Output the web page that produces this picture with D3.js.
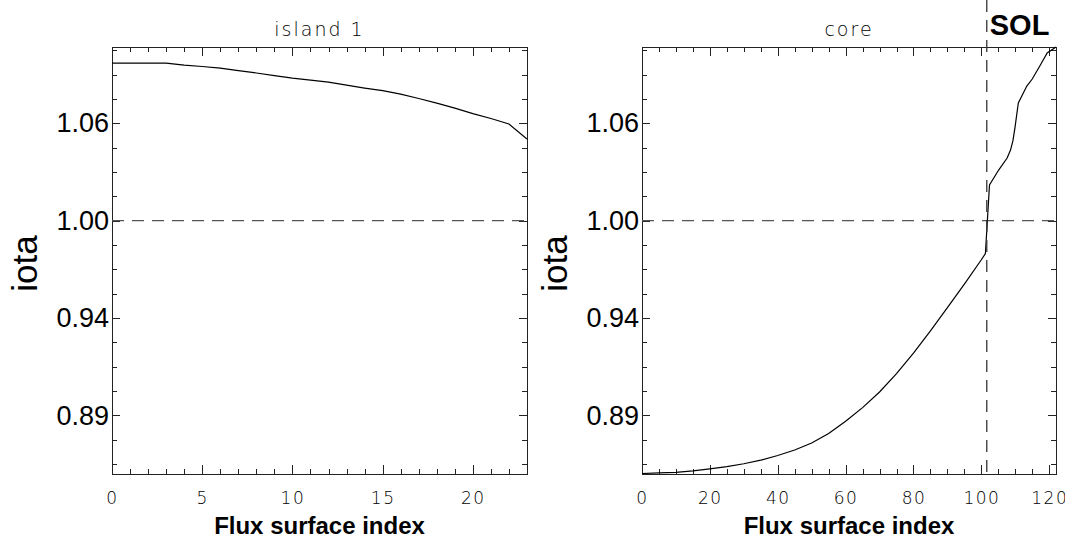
<!DOCTYPE html>
<html>
<head>
<meta charset="utf-8">
<script src="https://cdn.jsdelivr.net/npm/d3@7"></script>
<style>
    body { margin: 0; background: #fff; }
    svg { display: block; }
    .thin { font-family: "DejaVu Sans", sans-serif; font-weight: 200; }
    .arial { font-family: "Liberation Sans", Arial, sans-serif; }
</style>
</head>
<body>
<svg id="chart" width="1065" height="538"></svg>
<script>
// island 1 : iota per flux surface
var islandIndex = [0, 1, 2, 3, 4, 5, 6, 7, 8, 9, 10, 11, 12, 13, 14, 15, 16, 17, 18, 19, 20, 21, 22, 23];
var islandIota = [1.0921, 1.0921, 1.0921, 1.0921, 1.0909, 1.0901, 1.0892, 1.0877, 1.0863, 1.0848, 1.0833, 1.0822,
    1.0810, 1.0792, 1.0775, 1.0760, 1.0740, 1.0714, 1.0687, 1.0658, 1.0626, 1.0597, 1.0565, 1.0477];

// core : iota per flux surface
var coreIndex = [0, 5, 10, 15, 20, 25, 30, 35, 40, 45, 50, 55, 60, 65, 70, 75, 80, 85, 90, 95, 100, 101.2,
    102.4, 105.1, 107.6, 108.6, 109.3, 109.9, 110.9, 113.4, 115, 117.4, 119.4, 122];
var coreIota = [0.8523, 0.8526, 0.8530, 0.8538, 0.8550, 0.8563, 0.8580, 0.8601, 0.8628, 0.8660, 0.8701, 0.8756,
    0.8828, 0.8908, 0.8999, 0.9106, 0.9226, 0.9356, 0.9492, 0.9630, 0.9772, 0.9808,
    1.0209, 1.0296, 1.0366, 1.0413, 1.0466, 1.0542, 1.0688, 1.0787, 1.0828, 1.0910, 1.0980, 1.1015];

var sepIndex = 101.6;      // SOL boundary
var resonance = 1.0;       // iota = 1 line

var yDomain = [0.852, 1.1015];
var yMajorTicks = [0.8862, 0.9431, 1.0000, 1.0569];
var yTickLabels = ["0.89", "0.94", "1.00", "1.06"];

var islandXDomain = [0, 23];
var islandXTicks = [0, 5, 10, 15, 20];
var coreXDomain = [0, 122];
var coreXTicks = [0, 20, 40, 60, 80, 100, 120];

var svg = d3.select('#chart');
var plotTop = 47, plotBottom = 474;

var yScale = d3.scaleLinear().domain(yDomain).range([plotBottom, plotTop]);

// minor y ticks: 4 intervals per major
var yStep = (yMajorTicks[1] - yMajorTicks[0]) / 4;
var yMinor = d3.range(-20, 20).map(function (k) { return yMajorTicks[0] + k * yStep; })
    .filter(function (v) { return v >= yDomain[0] && v <= yDomain[1]; });

function drawPanel(opt) {
    var g = svg.append('g');
    var x = d3.scaleLinear().domain(opt.xDomain).range([opt.left, opt.right]);
    var xMinor = d3.range(opt.xDomain[0], opt.xDomain[1] + 0.001, opt.minorStep);

    function axisGroup(axis, tx, ty) {
        var a = g.append('g')
            .attr('transform', 'translate(' + tx + ',' + ty + ')')
            .call(axis);
        a.selectAll('path, line').attr('stroke', '#222').attr('stroke-width', 1).attr('shape-rendering', 'crispEdges');
        return a;
    }

    // minor ticks first
    axisGroup(d3.axisBottom(x).tickValues(xMinor).tickSize(-5).tickSizeOuter(0).tickFormat(''), 0, plotBottom);
    axisGroup(d3.axisTop(x).tickValues(xMinor).tickSize(-5).tickSizeOuter(0).tickFormat(''), 0, plotTop);
    axisGroup(d3.axisLeft(yScale).tickValues(yMinor).tickSize(-5).tickSizeOuter(0).tickFormat(''), opt.left, 0);
    axisGroup(d3.axisRight(yScale).tickValues(yMinor).tickSize(-5).tickSizeOuter(0).tickFormat(''), opt.right, 0);

    // major ticks
    var xb = axisGroup(d3.axisBottom(x).tickValues(opt.xTicks).tickSize(-9).tickSizeOuter(0).tickPadding(30)
        .tickFormat(d3.format('d')), 0, plotBottom);
    xb.selectAll('text').attr('class', 'thin').style('font-size', '17px').style('letter-spacing', '1.5px')
        .attr('fill', '#000').attr('dy', '0');
    axisGroup(d3.axisTop(x).tickValues(opt.xTicks).tickSize(-9).tickSizeOuter(0).tickFormat(''), 0, plotTop);
    var yl = axisGroup(d3.axisLeft(yScale).tickValues(yMajorTicks).tickSize(-8).tickSizeOuter(0).tickPadding(3)
        .tickFormat(function (d, i) { return yTickLabels[i]; }), opt.left, 0);
    yl.selectAll('text').attr('class', 'arial').style('font-size', '27px').attr('fill', '#000');
    axisGroup(d3.axisRight(yScale).tickValues(yMajorTicks).tickSize(-8).tickSizeOuter(0).tickFormat(''), opt.right, 0);

    // iota = 1 dashed line
    g.append('line')
        .attr('x1', opt.left).attr('x2', opt.right)
        .attr('y1', yScale(resonance)).attr('y2', yScale(resonance))
        .attr('stroke', '#555').attr('stroke-width', 1.3).attr('stroke-dasharray', '12,8');

    var clipId = 'clip-' + opt.name;
    svg.append('clipPath').attr('id', clipId).append('rect')
        .attr('x', opt.left).attr('y', plotTop - 1).attr('width', opt.right - opt.left).attr('height', plotBottom - plotTop + 1);

    var line = d3.line()
        .x(function (d) { return x(d[0]); })
        .y(function (d) { return yScale(d[1]); });

    g.append('path')
        .datum(d3.zip(opt.xs, opt.ys))
        .attr('d', line)
        .attr('clip-path', 'url(#' + clipId + ')')
        .attr('fill', 'none').attr('stroke', '#000').attr('stroke-width', 1.2);

    // titles
    var cx = (opt.left + opt.right) / 2;
    g.append('text').attr('class', 'thin').attr('x', cx).attr('y', 36)
        .attr('text-anchor', 'middle').style('font-size', '19px').style('letter-spacing', '2px')
        .text(opt.title);
    g.append('text').attr('class', 'arial').attr('x', cx).attr('y', 534)
        .attr('text-anchor', 'middle').style('font-size', '24px').style('font-weight', 'bold')
        .text('Flux surface index');
    g.append('text').attr('class', 'arial')
        .attr('transform', 'translate(' + (opt.left - 75) + ',' + ((plotTop + plotBottom) / 2 + 3) + ') rotate(-90)')
        .attr('text-anchor', 'middle').style('font-size', '35px')
        .text('iota');

    return x;
}

drawPanel({
    name: 'island', left: 112, right: 527, xDomain: islandXDomain, xTicks: islandXTicks, minorStep: 1,
    xs: islandIndex, ys: islandIota, title: 'island 1'
});

var xCore = drawPanel({
    name: 'core', left: 642, right: 1056, xDomain: coreXDomain, xTicks: coreXTicks, minorStep: 5,
    xs: coreIndex, ys: coreIota, title: 'core'
});

// separatrix
svg.append('line')
    .attr('x1', xCore(sepIndex)).attr('x2', xCore(sepIndex))
    .attr('y1', 0).attr('y2', plotBottom)
    .attr('stroke', '#333').attr('stroke-width', 1.3).attr('stroke-dasharray', '12,8');

svg.append('text').attr('class', 'arial')
    .attr('x', xCore(sepIndex) + 3).attr('y', 35)
    .style('font-size', '29px').style('font-weight', 'bold')
    .text('SOL');
</script>
</body>
</html>
